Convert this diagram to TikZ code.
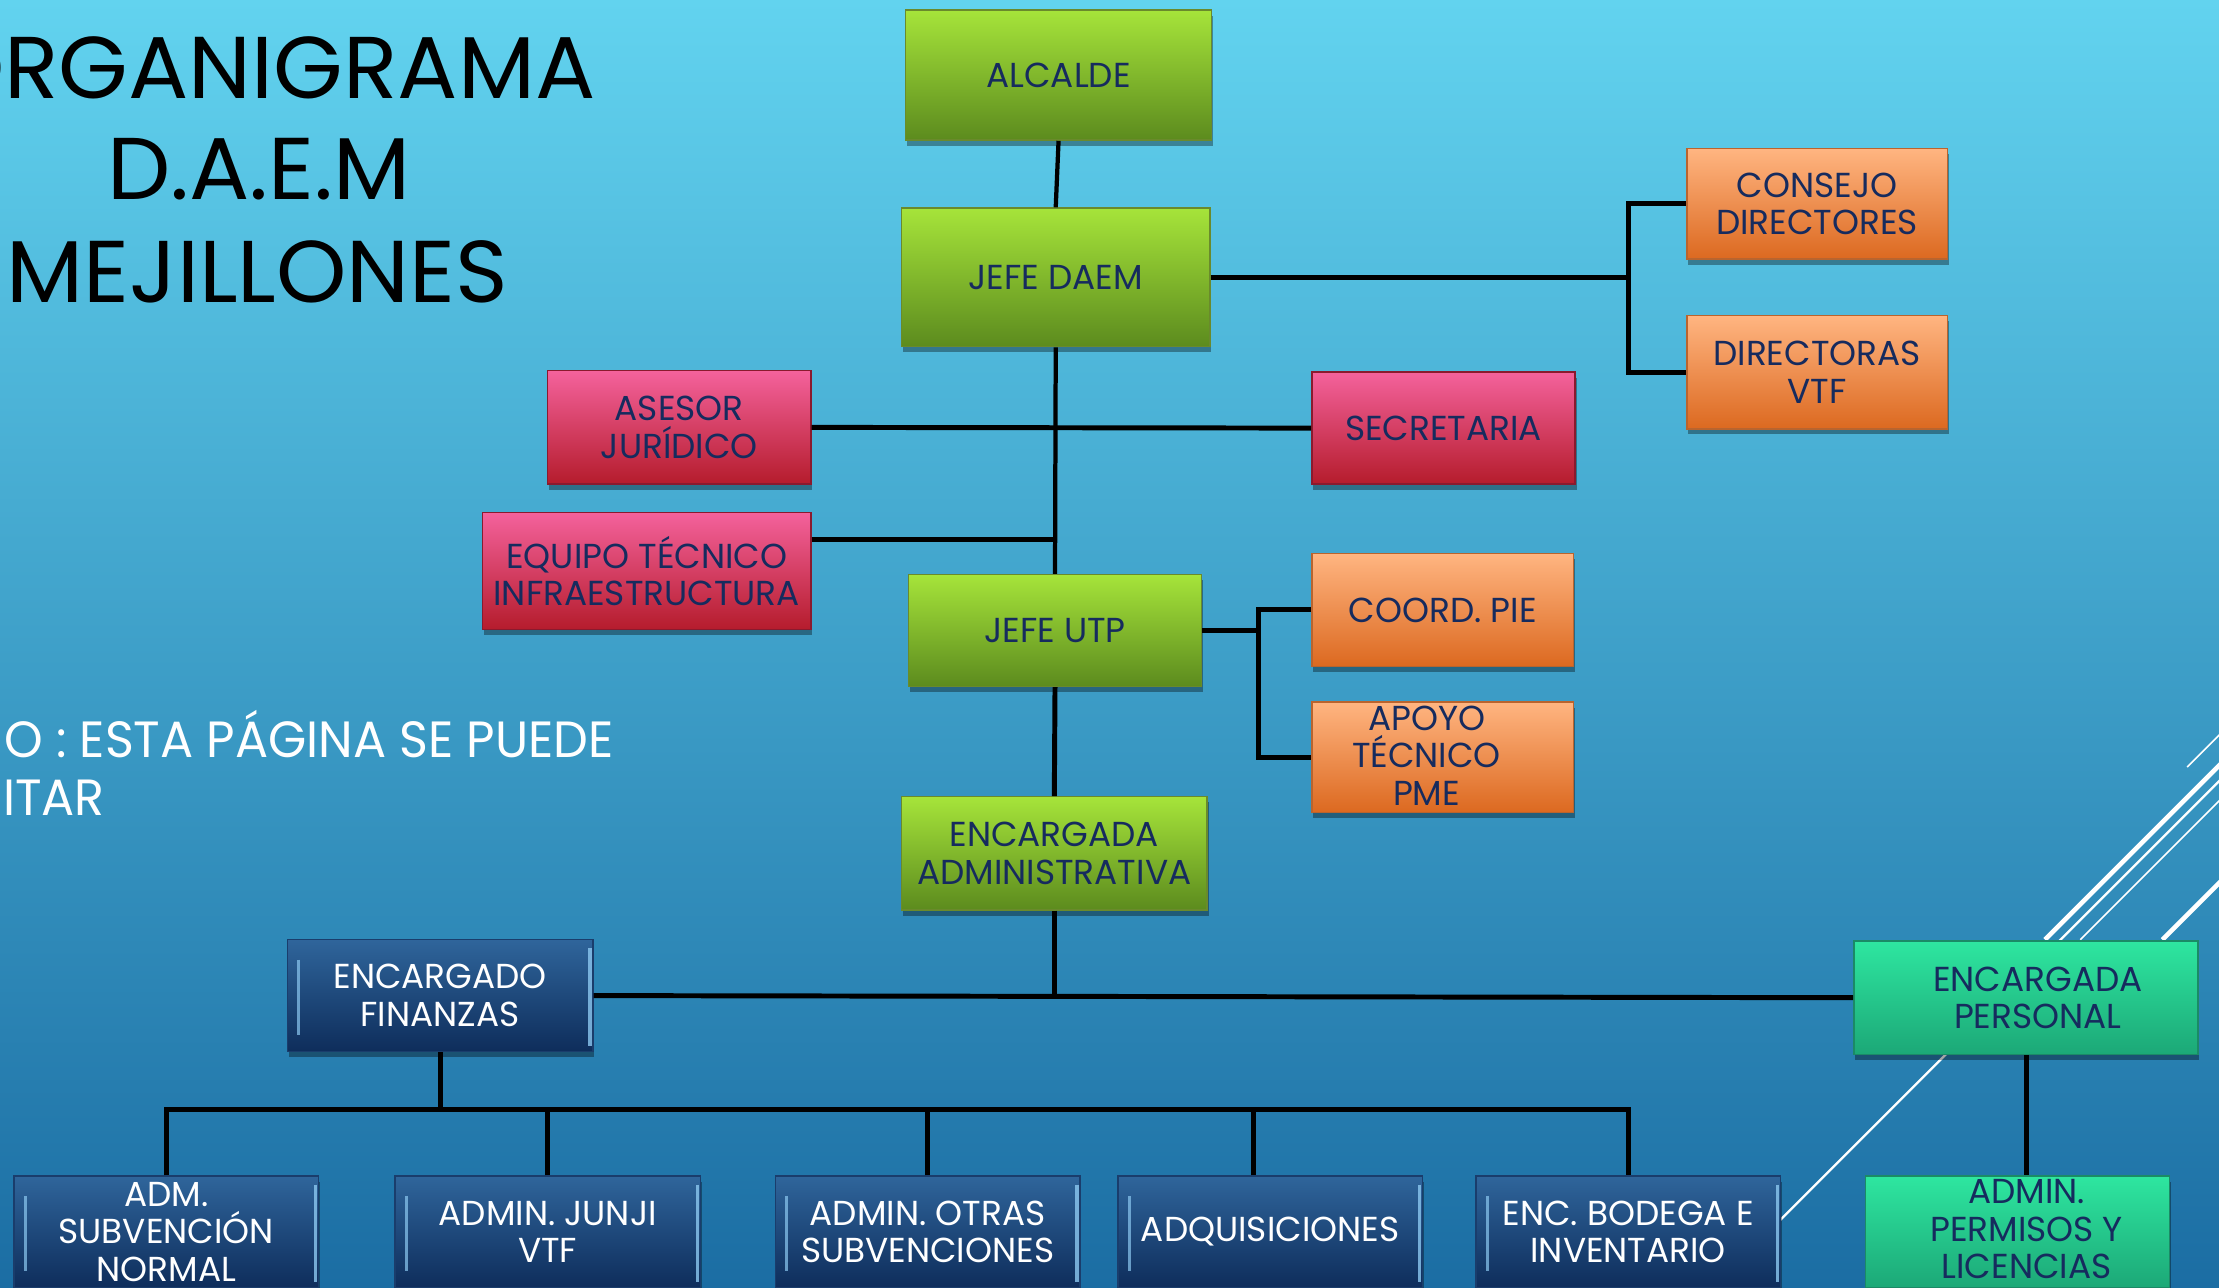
\documentclass[tikz,border=0pt]{standalone}
\usepackage{fontspec}
\setmainfont{Poppins}
\newfontfamily\boxfont[FakeStretch=0.99]{Poppins}
\newfontfamily\titlefont[FakeStretch=1.02]{Poppins}
\newfontfamily\subfont[FakeStretch=0.965]{Poppins}
\usetikzlibrary{shadows}
\definecolor{bgtop}{HTML}{62D3EF}
\definecolor{bgbot}{HTML}{1B6DA3}
\definecolor{navy}{HTML}{162B5E}
\definecolor{grT}{HTML}{A6E43A}
\definecolor{grB}{HTML}{5C8B1E}
\definecolor{grD}{HTML}{6A8A2C}
\definecolor{pkT}{HTML}{F4629C}
\definecolor{pkB}{HTML}{B51C2C}
\definecolor{pkD}{HTML}{8A1A2E}
\definecolor{orT}{HTML}{FFB581}
\definecolor{orB}{HTML}{DC6920}
\definecolor{orD}{HTML}{B9642E}
\definecolor{blT}{HTML}{2F659B}
\definecolor{blB}{HTML}{0E2D5B}
\definecolor{blD}{HTML}{1A3D6C}
\definecolor{blL}{HTML}{8CC8F0}
\definecolor{tlT}{HTML}{2EE6A0}
\definecolor{tlB}{HTML}{1CA877}
\definecolor{tlD}{HTML}{1B8A66}
\begin{document}
\begin{tikzpicture}[x=1pt,y=-1pt,
  box/.style={rectangle, inner sep=0pt, align=center, line width=1pt,
    font=\boxfont\fontsize{24.5}{26.5}\selectfont, text=navy,
    drop shadow={shadow xshift=1pt, shadow yshift=-4pt, opacity=0.35, fill=black}},
  boxtext/.style={inner sep=0pt, align=center, font=\boxfont\fontsize{24.5}{26.5}\selectfont, text=navy},
  greenbox/.style={box, draw=grD, top color=grT, bottom color=grB},
  pinkbox/.style={box, draw=pkD, top color=pkT, bottom color=pkB},
  orangebox/.style={box, draw=orD, top color=orT, bottom color=orB},
  tealbox/.style={box, draw=tlD, top color=tlT, bottom color=tlB},
  bluebox/.style={box, draw=blD, top color=blT, bottom color=blB, text=white,
    path picture={
      \draw[blL, line width=2pt, opacity=0.7]
        ([xshift=8pt,yshift=-14pt]path picture bounding box.north west) --
        ([xshift=8pt,yshift=12pt]path picture bounding box.south west);
      \draw[blL, line width=2.5pt, opacity=0.8]
        ([xshift=-2pt,yshift=-6pt]path picture bounding box.north east) --
        ([xshift=-2pt,yshift=4pt]path picture bounding box.south east);
    }},
  conn/.style={draw=black, line width=3.5pt},
  deco/.style={draw=white},
  titletext/.style={inner sep=0pt, font=\titlefont\fontsize{62}{72}\selectfont, text=black},
  subtext/.style={inner sep=0pt, anchor=base west, font=\subfont\fontsize{36}{41}\selectfont, text=white}
]
\useasboundingbox (0,0) rectangle (1568,910);
\clip (0,0) rectangle (1568,910);
\shade[top color=bgtop, bottom color=bgbot] (0,0) rectangle (1568,910);

% decorative lines
\draw[deco, line width=1.2pt] (1545.5,542) -- (1590,497.5);
\draw[deco, line width=3.2pt] (1445,664) -- (1590,519);
\draw[deco, line width=1.6pt] (1210,910) -- (1590,530);
\draw[deco, line width=1.2pt] (1470,664) -- (1590,544);
\draw[deco, line width=3.2pt] (1528,664) -- (1590,602);

% title
\node[titletext, anchor=base east] (t1) at (421,69.5) {ORGANIGRAMA};
\node[titletext, anchor=base] (t2) at (183,141) {D.A.E.M};
\node[titletext, anchor=base] (t3) at (182,214) {MEJILLONES};
\node[subtext] (s1) at (3,535) {O : ESTA PÁGINA SE PUEDE};
\node[subtext] (s2) at (2,576) {ITAR};

% boxes
\node[greenbox, minimum width=216pt, minimum height=92pt] (alcalde) at (748,53) {ALCALDE};
\node[greenbox, minimum width=218pt, minimum height=98pt] (jefedaem) at (746,196) {JEFE DAEM};
\node[orangebox, minimum width=184pt, minimum height=78pt] (consejo) at (1284,144) {CONSEJO\\DIRECTORES};
\node[orangebox, minimum width=184pt, minimum height=80pt] (directoras) at (1284,263) {DIRECTORAS\\VTF};
\node[pinkbox, minimum width=186pt, minimum height=79pt] (secretaria) at (1020,302.5) {SECRETARIA};
\node[pinkbox, minimum width=186pt, minimum height=80pt] (asesor) at (480,302) {ASESOR\\JURÍDICO};
\node[pinkbox, minimum width=232pt, minimum height=83pt] (equipo) at (457,403.5) {EQUIPO TÉCNICO\\INFRAESTRUCTURA};
\node[greenbox, minimum width=207pt, minimum height=79pt] (jefeutp) at (745.5,445.5) {JEFE UTP};
\node[orangebox, minimum width=185pt, minimum height=80pt] (coord) at (1019.5,431) {COORD. PIE};
\node[orangebox, minimum width=185pt, minimum height=78pt] (apoyo) at (1019.5,535) {};
\node[boxtext] (apoyot) at (1008,534) {APOYO\\TÉCNICO\\PME};
\node[greenbox, minimum width=216pt, minimum height=80pt] (encadm) at (745,603) {ENCARGADA\\ADMINISTRATIVA};
\node[bluebox, minimum width=216pt, minimum height=79pt] (finanzas) at (311,703.5) {ENCARGADO\\FINANZAS};
\node[tealbox, minimum width=243pt, minimum height=80pt] (personal) at (1431.5,705) {};
\node[boxtext] (personalt) at (1440,705) {ENCARGADA\\PERSONAL};

\node[bluebox, minimum width=215pt, minimum height=79pt] (admsub) at (117.5,870.5) {ADM.\\SUBVENCIÓN\\NORMAL};
\node[bluebox, minimum width=216pt, minimum height=79pt] (junji) at (387,870.5) {ADMIN. JUNJI\\VTF};
\node[bluebox, minimum width=215pt, minimum height=79pt] (otras) at (655.5,870.5) {ADMIN. OTRAS\\SUBVENCIONES};
\node[bluebox, minimum width=215pt, minimum height=79pt] (adq) at (897.5,870.5) {ADQUISICIONES};
\node[bluebox, minimum width=215pt, minimum height=79pt] (bodega) at (1150.5,870.5) {ENC. BODEGA E\\INVENTARIO};
\node[tealbox, minimum width=215pt, minimum height=79pt] (permisos) at (1425.5,870.5) {};
\node[boxtext] (permisost) at (1432,868.5) {ADMIN.\\PERMISOS Y\\LICENCIAS};

% connectors
\coordinate (b1) at (1151,196);
\coordinate (b2) at (889,445.5);
\coordinate (bus) at (311,784);
\draw[conn, line width=3pt] (alcalde.south) -- (jefedaem.north);
\draw[conn] (jefedaem.east) -- (b1);
\draw[conn] (consejo.west) -- (consejo.west -| b1) -- (directoras.west -| b1) -- (directoras.west);
\draw[conn, line width=3pt] (jefedaem.south) -- (jefeutp.north);
\draw[conn] (asesor.east) -- (secretaria.west);
\draw[conn] ([yshift=22.5pt]equipo.east) -- ([yshift=22.5pt]equipo.east -| jefedaem.south);
\draw[conn] (jefeutp.east) -- (b2);
\draw[conn] (coord.west) -- (coord.west -| b2) -- (apoyo.west -| b2) -- (apoyo.west);
\draw[conn] (jefeutp.south) -- (encadm.north);
\draw[conn] (encadm.south) -- (encadm.south |- finanzas.east);
\draw[conn] (finanzas.east) -- (personal.west);
\draw[conn] (finanzas.south) -- (bus);
\draw[conn] (admsub.north) -- (admsub.north |- bus) -- (bodega.north |- bus) -- (bodega.north);
\draw[conn] (junji.north) -- (junji.north |- bus);
\draw[conn] (otras.north) -- (otras.north |- bus);
\draw[conn] ([xshift=-12pt]adq.north) -- ([xshift=-12pt]adq.north |- bus);
\draw[conn] (personal.south -| permisost.north) -- (permisos.north -| permisost.north);
\end{tikzpicture}
\end{document}
